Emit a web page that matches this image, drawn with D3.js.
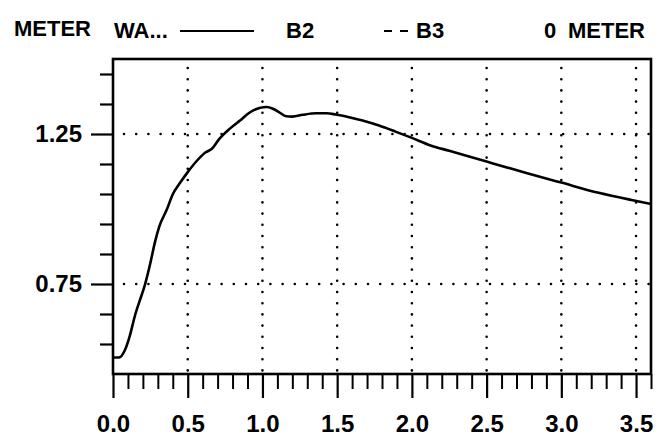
<!DOCTYPE html>
<html>
<head>
<meta charset="utf-8">
<script src="https://cdn.jsdelivr.net/npm/d3@7"></script>
<style>
  html, body { margin: 0; padding: 0; background: #fff; }
  svg { display: block; }
  text { font-family: "Liberation Sans", Arial, Helvetica, sans-serif; font-weight: bold; fill: #000; }
</style>
</head>
<body>
<svg id="chart" width="671" height="439"></svg>
<script>
// Water level along the reach, series B2 (metres)
const distance = [0, 0.04, 0.08, 0.11, 0.15, 0.18, 0.21, 0.25, 0.28, 0.31, 0.36, 0.40, 0.45, 0.50,
  0.56, 0.62, 0.66, 0.71, 0.78, 0.85, 0.91, 0.98, 1.03, 1.07, 1.11, 1.16, 1.20, 1.27, 1.36, 1.43,
  1.49, 1.58, 1.67, 1.78, 1.89, 2.00, 2.13, 2.25, 2.50, 2.76, 3.00, 3.25, 3.47, 3.60];
const levelB2 = [0.505, 0.505, 0.53, 0.573, 0.65, 0.696, 0.741, 0.82, 0.888, 0.942, 0.998, 1.049, 1.088, 1.123,
  1.16, 1.189, 1.20, 1.233, 1.267, 1.295, 1.32, 1.337, 1.34, 1.334, 1.323, 1.309, 1.308, 1.314, 1.319, 1.319,
  1.315, 1.306, 1.295, 1.278, 1.258, 1.237, 1.211, 1.194, 1.158, 1.121, 1.088, 1.054, 1.03, 1.017];

const xTicks = [0, 0.5, 1.0, 1.5, 2.0, 2.5, 3.0, 3.5];
const xTickLabels = ["0.0", "0.5", "1.0", "1.5", "2.0", "2.5", "3.0", "3.5"];
const xMinorTicks = d3.range(0, 37).map(i => i / 10).filter(v => Math.round(v * 10) % 5 !== 0);
const yTicks = [0.75, 1.25];
const yTickLabels = ["0.75", "1.25"];
const yMinorTicks = [0.55, 0.65, 0.85, 0.95, 1.05, 1.15, 1.35, 1.45];

const legendTitle = "METER";
const legendItems = ["WA...", "B2", "B3"];
const legendUnit = ["0", "METER"];

const svg = d3.select("#chart");
const plotLeft = 113, plotRight = 651, plotTop = 59, plotBottom = 374;

const x = d3.scaleLinear().domain([0, 3.6]).range([plotLeft, plotRight]);
const y = d3.scaleLinear().domain([0.45, 1.5]).range([plotBottom, plotTop]);

// dotted grid
const grid = svg.append("g")
  .attr("stroke", "#000").attr("stroke-width", 2.6)
  .attr("stroke-linecap", "round").attr("fill", "none");
grid.selectAll("line.v").data(xTicks.slice(1)).join("line")
  .attr("class", "v")
  .attr("x1", d => x(d)).attr("x2", d => x(d))
  .attr("y1", plotTop + 9).attr("y2", plotBottom)
  .attr("stroke-dasharray", "0,11.2");
grid.selectAll("line.h").data(yTicks).join("line")
  .attr("class", "h")
  .attr("y1", d => y(d)).attr("y2", d => y(d))
  .attr("x1", plotLeft + 11).attr("x2", plotRight)
  .attr("stroke-dasharray", "0,12.2");

// x axis: major ticks with labels, minor ticks between
const xAxis = svg.append("g").attr("transform", `translate(0,${plotBottom})`)
  .call(d3.axisBottom(x).tickValues(xTicks)
    .tickFormat((d, i) => xTickLabels[i]).tickSize(24).tickPadding(17));
xAxis.select(".domain").remove();
xAxis.selectAll(".tick line").attr("stroke-width", 2.2);
xAxis.selectAll(".tick text").attr("font-size", 24).attr("font-family", null);

const xMinor = svg.append("g").attr("transform", `translate(0,${plotBottom})`)
  .call(d3.axisBottom(x).tickValues(xMinorTicks).tickSize(15).tickFormat(""));
xMinor.select(".domain").remove();
xMinor.selectAll(".tick line").attr("stroke-width", 2);

// y axis
const yAxis = svg.append("g").attr("transform", `translate(${plotLeft},0)`)
  .call(d3.axisLeft(y).tickValues(yTicks)
    .tickFormat((d, i) => yTickLabels[i]).tickSize(22).tickPadding(9));
yAxis.select(".domain").remove();
yAxis.selectAll(".tick line").attr("stroke-width", 2.2);
yAxis.selectAll(".tick text").attr("font-size", 24).attr("font-family", null);

const yMinor = svg.append("g").attr("transform", `translate(${plotLeft},0)`)
  .call(d3.axisLeft(y).tickValues(yMinorTicks).tickSize(13).tickFormat(""));
yMinor.select(".domain").remove();
yMinor.selectAll(".tick line").attr("stroke-width", 2.2);

// plot frame
svg.append("rect")
  .attr("x", plotLeft).attr("y", plotTop)
  .attr("width", plotRight - plotLeft).attr("height", plotBottom - plotTop)
  .attr("fill", "none").attr("stroke", "#000").attr("stroke-width", 2.6);

// water level curve
const line = d3.line()
  .x((d, i) => x(distance[i]))
  .y(d => y(d))
  .curve(d3.curveMonotoneX);
svg.append("path")
  .datum(levelB2)
  .attr("d", line)
  .attr("fill", "none").attr("stroke", "#000").attr("stroke-width", 2.6)
  .attr("stroke-linejoin", "round");

// legend row
const lg = svg.append("g").attr("font-size", 22);
const base = 36;
lg.append("text").attr("x", 14).attr("y", base).text(legendTitle);
lg.append("text").attr("x", 114).attr("y", base + 2).text(legendItems[0]);
lg.append("line").attr("x1", 180).attr("x2", 254).attr("y1", base - 5).attr("y2", base - 5)
  .attr("stroke", "#000").attr("stroke-width", 2);
lg.append("text").attr("x", 286).attr("y", base + 2).text(legendItems[1]);
lg.append("line").attr("x1", 384).attr("x2", 408).attr("y1", base - 5).attr("y2", base - 5)
  .attr("stroke", "#000").attr("stroke-width", 2.2).attr("stroke-dasharray", "8,8");
lg.append("text").attr("x", 416).attr("y", base + 2).text(legendItems[2]);
lg.append("text").attr("x", 544).attr("y", base + 2).text(legendUnit[0]);
lg.append("text").attr("x", 645).attr("y", base + 2).attr("text-anchor", "end").text(legendUnit[1]);
</script>
</body>
</html>
